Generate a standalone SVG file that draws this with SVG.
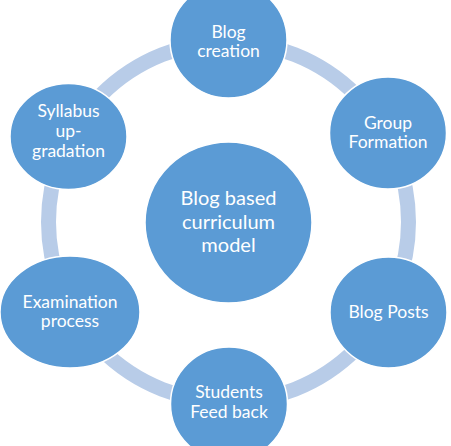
<svg xmlns="http://www.w3.org/2000/svg" width="451" height="446" viewBox="0 0 451 446">
<style>
.node{fill:#5b9bd5;stroke:#ffffff;stroke-width:1.5}
.lbl{fill:#ffffff;font-family:Lato,"Open Sans","Liberation Sans",sans-serif;font-size:17.5px;text-anchor:middle}
.big{font-size:20px}
.ring{fill:none;stroke:#b8cce8;stroke-width:15}
</style>
<rect width="451" height="446" fill="#ffffff"/>
<g id="connectors">
<circle class="ring" cx="228.5" cy="222" r="180"/>
</g>
<g id="center">
<ellipse class="node" cx="228.5" cy="222.5" rx="83.5" ry="80.5"/>
<text class="lbl big" x="228.5" y="205">Blog based</text>
<text class="lbl big" x="228.5" y="229">curriculum</text>
<text class="lbl big" x="228.5" y="252">model</text>
</g>
<g id="blog-creation">
<ellipse class="node" cx="228.5" cy="40" rx="58.5" ry="58"/>
<text class="lbl" x="228.5" y="38">Blog</text>
<text class="lbl" x="228.5" y="57">creation</text>
</g>
<g id="group-formation">
<ellipse class="node" cx="388" cy="133" rx="58.5" ry="56"/>
<text class="lbl" x="388" y="129">Group</text>
<text class="lbl" x="388" y="148">Formation</text>
</g>
<g id="blog-posts">
<ellipse class="node" cx="388.5" cy="312.5" rx="58.5" ry="55.5"/>
<text class="lbl" x="388.5" y="318">Blog Posts</text>
</g>
<g id="students-feedback">
<ellipse class="node" cx="229" cy="404" rx="58.5" ry="57"/>
<text class="lbl" x="229" y="398">Students</text>
<text class="lbl" x="229" y="418">Feed back</text>
</g>
<g id="examination">
<ellipse class="node" cx="70" cy="312" rx="70" ry="56"/>
<text class="lbl" x="70" y="308">Examination</text>
<text class="lbl" x="70" y="327">process</text>
</g>
<g id="syllabus">
<ellipse class="node" cx="68.5" cy="136.5" rx="58.5" ry="53"/>
<text class="lbl" x="68.5" y="117">Syllabus</text>
<text class="lbl" x="68.5" y="137">up-</text>
<text class="lbl" x="68.5" y="157">gradation</text>
</g>
</svg>
